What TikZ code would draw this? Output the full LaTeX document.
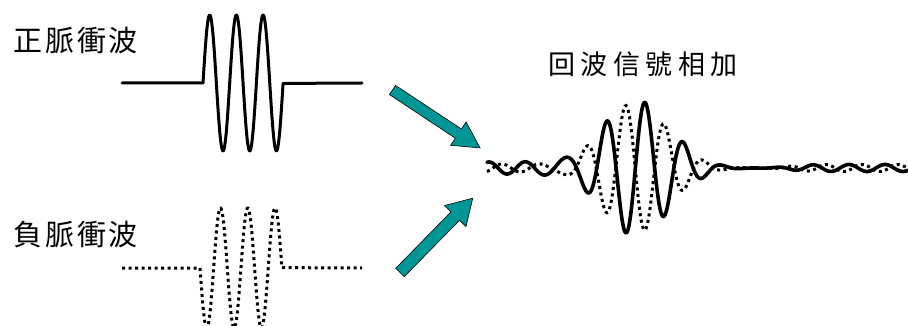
\documentclass[tikz,border=0pt]{standalone}
\usepackage{fontspec}
\newfontfamily\cjkleft[LetterSpace=10]{Noto Sans CJK TC}
\newfontfamily\cjkright[LetterSpace=20]{Noto Sans CJK TC}
\definecolor{arrowteal}{RGB}{0,150,150}

\begin{document}
\begin{tikzpicture}[x=1pt, y=-1pt,
  pulse/.style={line width=3pt, line join=round, line cap=round},
  dotpulse/.style={line width=3pt, dash pattern=on 3pt off 3.5pt},
  sumsolid/.style={line width=3.6pt, line join=round, line cap=round},
  sumdot/.style={line width=3pt, dash pattern=on 3pt off 3.5pt},
  bigarrow/.style={fill=arrowteal, draw=black, line width=0.6pt, line join=miter},
  lbl/.style={inner sep=0pt, anchor=west, font=\cjkleft\fontsize{29}{32}\selectfont},
  lblr/.style={inner sep=0pt, font=\cjkright\fontsize{27}{30}\selectfont},
  declare function={
    clampexp(\v)=exp(min(9,max(-9,\v)));
    gs(\u)=clampexp(-0.5*\u*\u);
    wl(\x)=1/(1+clampexp((\x-575)/8));
    wr(\x)=1/(1+clampexp(-(\x-790)/10));
    solid(\x)=168-68*gs((\x-636)/34)*cos(9.3506*(\x-645))
              +(6*wl(\x)+3.5*wr(\x))*cos(10*(\x-507));
    dotted(\x)=168+65*gs((\x-635)/33)*cos(9.2308*(\x-645))
              -(4*wl(\x)+3.5*wr(\x))*cos(10*(\x-502));
  }]
\useasboundingbox (0,0) rectangle (908,326);
\clip (0,0) rectangle (908,326);

% labels
\node[lbl] (pos) at (13,40) {正脈衝波};
\node[lbl] (neg) at (13,235) {負脈衝波};
\node[lblr] (sum) at (643,64) {回波信號相加};

% positive pulse
\draw[pulse] (122,83) -- (203,83)
  -- plot[domain=0:3, samples=180] ({203+26.7*\x}, {83-68*sin(360*\x)})
  -- (362,83);

% negative pulse
\draw[dotpulse] (122,268) -- (200,268)
  -- plot[domain=0:3, samples=180] ({200+27.3*\x}, {268+60*sin(360*\x)})
  -- (362,268);

% echoes added together
\draw[sumdot] plot[domain=487:908, samples=422] (\x, {dotted(\x)});
\draw[sumsolid] plot[domain=487:908, samples=422] (\x, {solid(\x)});

% arrows towards the sum
\begin{scope}[shift={(392.5,90)}, rotate=-33.5]
  \draw[bigarrow] (0,-5.5) -- (79,-5.5) -- (79,-14) -- (105,0)
    -- (79,14) -- (79,5.5) -- (0,5.5) -- cycle;
\end{scope}
\begin{scope}[shift={(400,272.5)}, rotate=45.6]
  \draw[bigarrow] (0,-6) -- (79,-6) -- (79,-15) -- (104,0)
    -- (79,15) -- (79,6) -- (0,6) -- cycle;
\end{scope}
\end{tikzpicture}
\end{document}
